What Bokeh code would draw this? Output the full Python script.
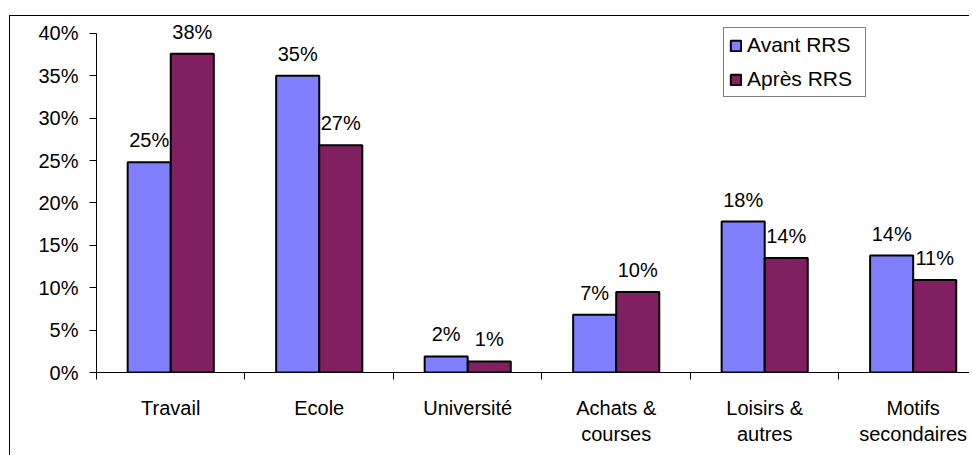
from bokeh.plotting import figure
from bokeh.models import (Range1d, FixedTicker, PrintfTickFormatter, Legend,
                          LegendItem, ColumnDataSource)
from bokeh.transform import dodge
from bokeh.core.properties import value
from bokeh.embed import file_html
from bokeh.resources import INLINE

categories = ["Travail", "Ecole", "Université", "Achats &\ncourses",
              "Loisirs &\nautres", "Motifs\nsecondaires"]
avant = [24.8, 35.0, 1.9, 6.8, 17.8, 13.8]
apres = [37.6, 26.8, 1.3, 9.5, 13.5, 10.9]
labels_avant = ["25%", "35%", "2%", "7%", "18%", "14%"]
labels_apres = ["38%", "27%", "1%", "10%", "14%", "11%"]
y_ticks = [0, 5, 10, 15, 20, 25, 30, 35, 40]
series_names = ["Avant RRS", "Après RRS"]

FONT = "Liberation Sans"
BLUE = "#8080FF"
MAROON = "#802060"

pos = [i + 0.5 for i in range(len(categories))]
src = ColumnDataSource(dict(pos=pos, avant=avant, apres=apres,
                            la=labels_avant, lb=labels_apres))

p = figure(width=960, height=440, output_backend="svg", toolbar_location=None,
           x_range=Range1d(0, 5.886), y_range=Range1d(0, 42),
           min_border_left=86, min_border_top=0, min_border_right=0,
           min_border_bottom=84)
p.styles = {"position": "relative", "left": "9px", "top": "15px",
            "border-left": "1px solid black",
            "border-top": "1px solid black"}
p.outline_line_color = None
p.xgrid.visible = False
p.ygrid.visible = False
p.background_fill_color = "white"
p.border_fill_color = "white"

r1 = p.vbar(x=dodge("pos", -0.145), top="avant", width=0.29, source=src,
            fill_color=BLUE, line_color="black", line_width=2)
r2 = p.vbar(x=dodge("pos", 0.145), top="apres", width=0.29, source=src,
            fill_color=MAROON, line_color="black", line_width=2)

p.text(x=dodge("pos", -0.145), y="avant", text="la", source=src,
       y_offset=-22, text_align="center", text_baseline="alphabetic",
       text_font=value(FONT), text_font_size="20px", text_color="black")
p.text(x=dodge("pos", 0.145), y="apres", text="lb", source=src,
       y_offset=-22, text_align="center", text_baseline="alphabetic",
       text_font=value(FONT), text_font_size="20px", text_color="black")

# x axis
xa = p.xaxis[0]
xa.ticker = FixedTicker(ticks=pos, minor_ticks=list(range(len(categories))))
xa.major_label_overrides = {pv: c for pv, c in zip(pos, categories)}
xa.major_tick_line_color = None
xa.major_tick_out = 0
xa.major_tick_in = 0
xa.minor_tick_out = 7
xa.minor_tick_in = 0
xa.minor_tick_line_color = "black"
xa.axis_line_color = "black"
xa.major_label_standoff = 17
xa.major_label_text_font = FONT
xa.major_label_text_font_size = "20px"
xa.major_label_text_color = "black"

# y axis
ya = p.yaxis[0]
ya.ticker = FixedTicker(ticks=y_ticks)
ya.formatter = PrintfTickFormatter(format="%d%%")
ya.bounds = (0, 40)
ya.major_tick_out = 7
ya.major_tick_in = 0
ya.minor_tick_line_color = None
ya.major_tick_line_color = "black"
ya.axis_line_color = "black"
ya.major_label_standoff = 11
ya.major_label_text_font = FONT
ya.major_label_text_font_size = "20px"
ya.major_label_text_color = "black"

legend = Legend(items=[LegendItem(label=series_names[0], renderers=[r1]),
                       LegendItem(label=series_names[1], renderers=[r2])],
                location=(627, 275), orientation="vertical",
                border_line_color="black", border_line_width=1,
                background_fill_color="white", background_fill_alpha=1,
                label_text_font=FONT, label_text_font_size="21px",
                label_text_color="black", glyph_width=13, glyph_height=13,
                label_height=20, label_width=113, spacing=10, padding=5,
                margin=0, label_standoff=5)
p.add_layout(legend)

open("out.html", "w").write(file_html(p, INLINE))
